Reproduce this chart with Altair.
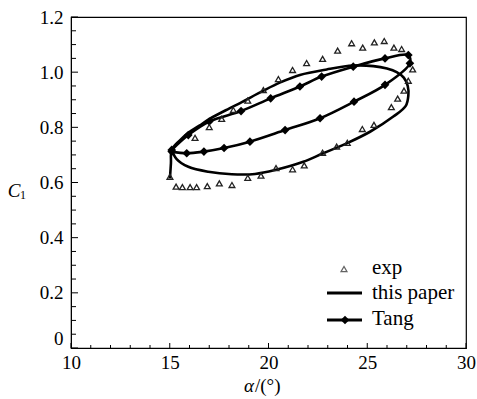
import altair as alt
import pandas as pd

# ---------------- data ----------------
exp_alpha = [15.01, 15.32, 15.64, 16.03, 16.36, 16.90, 17.51, 18.15, 18.95, 19.62,
             20.38, 21.22, 21.81, 22.74, 23.45, 23.99, 24.75, 25.34, 26.22, 26.54,
             26.86, 27.08, 27.30, 26.74, 26.35, 25.86, 25.36, 24.77, 24.21, 23.50,
             22.74, 21.93, 21.22, 20.50, 19.74, 18.95, 18.22, 17.63, 17.00, 16.28]
exp_cl = [0.621, 0.585, 0.583, 0.583, 0.583, 0.587, 0.597, 0.591, 0.617, 0.625,
          0.652, 0.648, 0.662, 0.708, 0.730, 0.744, 0.794, 0.809, 0.873, 0.904,
          0.933, 0.969, 1.010, 1.084, 1.089, 1.113, 1.108, 1.089, 1.105, 1.078,
          1.048, 1.033, 1.008, 0.975, 0.935, 0.897, 0.863, 0.831, 0.801, 0.762]

paper_alpha = [15.01, 15.06, 15.10, 15.50, 15.94, 16.50, 17.00, 18.00, 18.56, 19.74,
               20.60, 21.59, 22.95, 24.29, 25.31, 26.00, 26.49, 26.85, 27.05, 27.08,
               26.95, 26.32, 25.14, 23.96, 22.77, 21.76, 20.33, 19.32, 18.14, 16.95,
               15.94, 15.35, 15.10]
paper_cl = [0.615, 0.670, 0.718, 0.752, 0.780, 0.806, 0.830, 0.868, 0.888, 0.933,
            0.963, 0.990, 1.010, 1.024, 1.022, 1.013, 1.000, 0.980, 0.950, 0.915,
            0.878, 0.839, 0.784, 0.742, 0.706, 0.675, 0.645, 0.631, 0.630, 0.639,
            0.657, 0.685, 0.718]

tang_alpha = [15.10, 15.86, 16.73, 17.75, 19.06, 20.84, 22.61, 24.33, 25.90, 27.16,
              27.08, 25.90, 24.29, 22.69, 21.59, 20.11, 18.61, 17.00, 15.94, 15.10]
tang_cl = [0.712, 0.706, 0.712, 0.725, 0.748, 0.790, 0.833, 0.893, 0.954, 1.032,
           1.062, 1.050, 1.020, 0.984, 0.948, 0.905, 0.859, 0.821, 0.772, 0.718]

x_major = [10, 15, 20, 25, 30]
x_minor = [v for v in range(10, 31) if v % 5 != 0]
y_major = [0, 0.2, 0.4, 0.6, 0.8, 1.0, 1.2]
y_minor = [round(0.05 * k, 2) for k in range(1, 24) if k % 4 != 0]

legend_labels = ["exp", "this paper", "Tang"]

FONT = "Liberation Serif"
W, H = 395, 331

xs = alt.Scale(domain=[10, 30], nice=False, zero=False)
ys = alt.Scale(domain=[0, 1.2], nice=False, zero=False)

x_axis = alt.Axis(values=x_major, tickSize=0, grid=False, title=None,
                  labelFont=FONT, labelFontSize=19, labelColor="black",
                  labelPadding=5, domainColor="black", labelFlush=False)
y_axis = alt.Axis(values=y_major, tickSize=0, grid=False, title=None,
                  labelFont=FONT, labelFontSize=19, labelColor="black",
                  labelPadding=8, domainColor="black", labelFlush=False,
                  labelExpr="datum.value == 0 ? '0' : format(datum.value, '.1f')",
                  labelBaseline=alt.condition("datum.value == 0", alt.value("bottom"), alt.value("middle")))

exp_df = pd.DataFrame({"a": exp_alpha, "c": exp_cl})
paper_df = pd.DataFrame({"a": paper_alpha, "c": paper_cl, "i": list(range(len(paper_alpha)))})
tang_df = pd.DataFrame({"a": tang_alpha, "c": tang_cl, "i": list(range(len(tang_alpha)))})

paper = alt.Chart(paper_df).mark_line(color="black", strokeWidth=2.6, interpolate="catmull-rom").encode(
    x=alt.X("a:Q", scale=xs, axis=x_axis),
    y=alt.Y("c:Q", scale=ys, axis=y_axis),
    order="i:Q",
)

tang = alt.Chart(tang_df).mark_line(
    color="black", strokeWidth=2.6, interpolate="catmull-rom",
    point=alt.OverlayMarkDef(shape="diamond", filled=True, color="black", size=75),
).encode(
    x=alt.X("a:Q", scale=xs),
    y=alt.Y("c:Q", scale=ys),
    order="i:Q",
)

exp = alt.Chart(exp_df).mark_point(shape="triangle-up", filled=False, color="#222",
                                   strokeWidth=1.3, size=34, opacity=1).encode(
    x=alt.X("a:Q", scale=xs),
    y=alt.Y("c:Q", scale=ys),
)

# inward ticks
xmaj = alt.Chart(pd.DataFrame({"v": x_major})).mark_rule(color="black", strokeWidth=1).encode(
    x=alt.X("v:Q", scale=xs), y=alt.value(H), y2=alt.value(H - 5))
xmin = alt.Chart(pd.DataFrame({"v": x_minor})).mark_rule(color="black", strokeWidth=1).encode(
    x=alt.X("v:Q", scale=xs), y=alt.value(H), y2=alt.value(H - 3))
ymaj = alt.Chart(pd.DataFrame({"v": y_major})).mark_rule(color="black", strokeWidth=1).encode(
    y=alt.Y("v:Q", scale=ys), x=alt.value(0), x2=alt.value(7))
ymin = alt.Chart(pd.DataFrame({"v": y_minor})).mark_rule(color="black", strokeWidth=1).encode(
    y=alt.Y("v:Q", scale=ys), x=alt.value(0), x2=alt.value(5))

# legend
def txt(s, x, y, size=21, style="normal", align="left"):
    return alt.Chart(pd.DataFrame({"t": [s]})).mark_text(
        font=FONT, fontSize=size, fontStyle=style, align=align, baseline="alphabetic", color="black"
    ).encode(text="t:N", x=alt.value(x), y=alt.value(y))

leg_tri = alt.Chart(pd.DataFrame({"t": [legend_labels[0]]})).mark_point(
    shape="triangle-up", filled=False, color="#222", strokeWidth=1.3, size=34).encode(
    x=alt.value(273), y=alt.value(252))
leg_l1 = alt.Chart(pd.DataFrame({"t": [legend_labels[1]]})).mark_rule(color="black", strokeWidth=3).encode(
    x=alt.value(256), x2=alt.value(291), y=alt.value(276))
leg_l2 = alt.Chart(pd.DataFrame({"t": [legend_labels[2]]})).mark_rule(color="black", strokeWidth=3).encode(
    x=alt.value(256), x2=alt.value(291), y=alt.value(303))
leg_d = alt.Chart(pd.DataFrame({"t": [legend_labels[2]]})).mark_point(
    shape="diamond", filled=True, color="black", size=75, opacity=1).encode(
    x=alt.value(274), y=alt.value(303))

legend = (leg_tri + leg_l1 + leg_l2 + leg_d
          + txt(legend_labels[0], 301, 257)
          + txt(legend_labels[1], 301, 282)
          + txt(legend_labels[2], 301, 308))

titles = (txt("α", 183, 375, size=19, style="italic", align="right")
          + txt("/(°)", 184, 375, size=19)
          + txt("C", -57, 180, size=19, style="italic", align="center")
          + txt("1", -48, 182, size=12, align="center"))

chart = alt.layer(paper, tang, exp, xmaj, xmin, ymaj, ymin, legend, titles).properties(
    width=W, height=H,
    autosize="none",
    padding={"left": 71, "top": 17, "right": 11, "bottom": 51},
    background="white",
).configure_view(stroke="black", strokeWidth=1.2
).configure_axis(labelFont=FONT, labelFontSize=19
).configure_text(font=FONT)

chart.save("out.html", embed_options={"renderer": "svg", "actions": False})
